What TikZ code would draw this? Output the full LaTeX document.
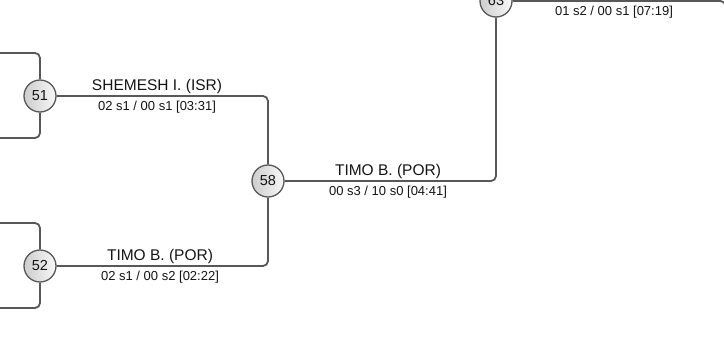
\documentclass[tikz,border=0pt]{standalone}
\usepackage{fontspec}
\setmainfont{Liberation Sans}
\usetikzlibrary{positioning, calc, backgrounds}
\definecolor{colLine}{RGB}{88,88,88}
\definecolor{colBallL}{RGB}{205,205,205}
\definecolor{colBallR}{RGB}{248,248,248}
\definecolor{colText}{RGB}{20,20,20}
\tikzset{
  matchNode/.style={
    circle, draw=colLine, line width=1.3pt,
    left color=colBallL, right color=colBallR,
    minimum size=32pt, inner sep=0pt,
    font=\fontsize{14.5}{15}\selectfont, text=colText
  },
  link/.style={
    draw=colLine, line width=1.8pt, rounded corners=5pt
  },
  nameLbl/.style={
    font=\fontsize{15.5}{16}\selectfont, text=colText,
    anchor=base, inner sep=0pt
  },
  scoreLbl/.style={
    font=\fontsize{13}{14}\selectfont, text=colText,
    anchor=base, inner sep=0pt
  }
}
\begin{document}
\begin{tikzpicture}[x=1pt, y=-1pt]
\useasboundingbox (0,0) rectangle (724,338);
\clip (0,0) rectangle (724,338);

%% ==============================================================
%% Match circles
%% ==============================================================
\node[matchNode] (m51) at (40,96)  {51};
\node[matchNode] (m52) at (40,266) {52};
\node[matchNode] (m58) at (268,181) {58};
\node[matchNode] (m63) at (496,1)  {63};

% off-page ends of the bracket
\coordinate (in51a) at (-20,53);
\coordinate (in51b) at (-20,138);
\coordinate (in52a) at (-20,223);
\coordinate (in52b) at (-20,308);
\coordinate (in63)  at (496,-40);
\coordinate (next)  at (725.5,100);

%% ==============================================================
%% Connectors
%% ==============================================================
\begin{scope}[on background layer]
  % feeders into 51 and 52
  \draw[link] (in51a) -| (m51.north);
  \draw[link] (in51b) -| (m51.south);
  \draw[link] (in52a) -| (m52.north);
  \draw[link] (in52b) -| (m52.south);

  % 51 / 52 to 58
  \draw[link] (m51.east) -| (m58.north);
  \draw[link] (m52.east) -| (m58.south);

  % 58 to 63
  \draw[link] (m58.east) -| (m63.south);
  \draw[link] (in63) -- (m63.north);

  % 63 onward
  \draw[link] (m63.east) -| (next);
\end{scope}

%% ==============================================================
%% Winner and score labels
%% ==============================================================
\node[nameLbl]  at ([xshift=117pt,yshift=6pt]m51.center) {SHEMESH I. (ISR)};
\node[scoreLbl] at ([xshift=117pt,yshift=-14pt]m51.center) {02 s1 / 00 s1 [03:31]};

\node[nameLbl]  at ([xshift=120pt,yshift=6pt]m52.center) {TIMO B. (POR)};
\node[scoreLbl] at ([xshift=120pt,yshift=-14pt]m52.center) {02 s1 / 00 s2 [02:22]};

\node[nameLbl]  at ([xshift=120pt,yshift=6pt]m58.center) {TIMO B. (POR)};
\node[scoreLbl] at ([xshift=120pt,yshift=-14pt]m58.center) {00 s3 / 10 s0 [04:41]};

\node[scoreLbl] at ([xshift=118pt,yshift=-14pt]m63.center) {01 s2 / 00 s1 [07:19]};

\end{tikzpicture}
\end{document}
